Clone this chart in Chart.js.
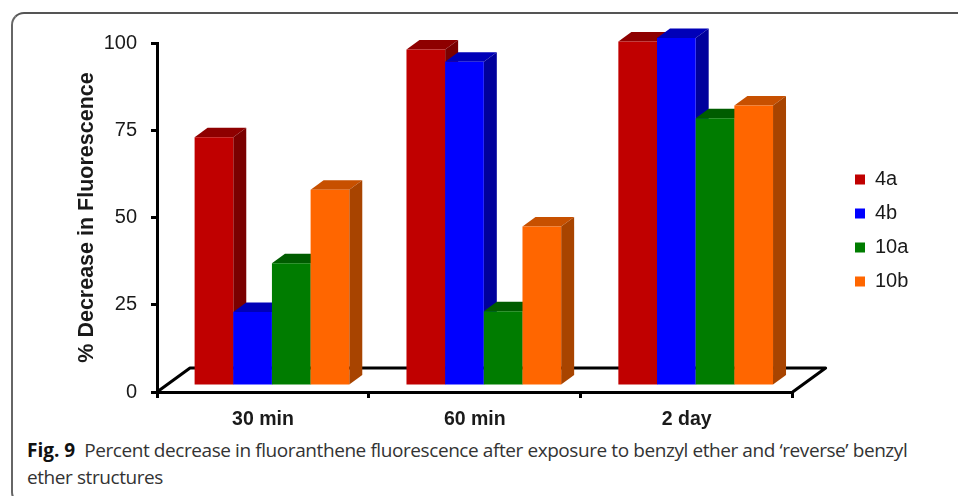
<!DOCTYPE html>
<html>
<head>
<meta charset="utf-8">
<style>
  html, body { margin: 0; padding: 0; background: #fff; width: 958px; height: 496px; overflow: hidden; }
  #frame { position: absolute; left: 11px; top: 12px; width: 960px; height: 493px; border-style: solid; border-width: 2px; border-color: #555 #555 #555 #666; border-radius: 13px; box-sizing: border-box; }
  #chartBox { position: absolute; left: 0; top: 0; width: 958px; height: 430px; }
  #caption { position: absolute; left: 27px; top: 437px; width: 890px; font: 19px/27px "Open Sans", sans-serif; color: #333; letter-spacing: -0.42px; }
  #caption b { color: #111; letter-spacing: 0; }
</style>
</head>
<body>
<div id="frame"></div>
<div id="chartBox"><canvas id="chart" width="958" height="430"></canvas></div>
<div id="caption"><b>Fig. 9</b>&nbsp; Percent decrease in fluoranthene fluorescence after exposure to benzyl ether and ‘reverse’ benzyl ether structures</div>
<script src="https://cdn.jsdelivr.net/npm/chart.js@4"></script>
<script>
const categories = ['30 min', '60 min', '2 day'];
const yTicks = [0, 25, 50, 75, 100];
const s4a = [71.3, 96.4, 98.7];
const s4b = [21.2, 92.9, 99.7];
const s10a = [35.2, 21.4, 76.7];
const s10b = [56.2, 45.7, 80.4];

// front face colour, top face, side face
const colours = {
    '4a': ['#c00000', '#8e0000', '#7a0000'],
    '4b': ['#0000ff', '#0000b8', '#00009c'],
    '10a': ['#007c00', '#005c00', '#004f00'],
    '10b': ['#ff6600', '#c75000', '#a84400']
};

const shiftX = 9, shiftY = -6;   // bars stand a bit behind the axis plane
const depthX = 13, depthY = -9.5; // depth of each bar
const floorX = 33, floorY = -24;

function drawFaces(ctx, bar, name) {
    const hw = bar.width / 2;
    const xl = bar.x - hw, xr = bar.x + hw, top = bar.y, base = bar.base;
    ctx.fillStyle = colours[name][1];
    ctx.beginPath();
    ctx.moveTo(xl, top);
    ctx.lineTo(xl + depthX, top + depthY);
    ctx.lineTo(xr + depthX, top + depthY);
    ctx.lineTo(xr, top);
    ctx.closePath();
    ctx.fill();
    ctx.fillStyle = colours[name][2];
    ctx.beginPath();
    ctx.moveTo(xr, top);
    ctx.lineTo(xr + depthX, top + depthY);
    ctx.lineTo(xr + depthX, base + depthY);
    ctx.lineTo(xr, base);
    ctx.closePath();
    ctx.fill();
}

const bars3d = {
    id: 'bars3d',
    afterLayout(chart) {
        // legend sits away from the plot
        const lg = chart.legend;
        const w = lg.right - lg.left;
        lg.left = 841;
        lg.right = 841 + w;
        lg.top -= 6;
        lg.bottom -= 6;
    },
    beforeDatasetsDraw(chart) {
        const ctx = chart.ctx, x = chart.scales.x, y = chart.scales.y;
        const l = x.left, r = x.right, b = y.bottom;
        ctx.save();
        ctx.strokeStyle = '#000';
        ctx.lineWidth = 3;
        ctx.lineJoin = 'round';
        ctx.beginPath();
        ctx.moveTo(l, b);
        ctx.lineTo(l + floorX, b + floorY);
        ctx.lineTo(r + floorX, b + floorY);
        ctx.lineTo(r, b);
        ctx.stroke();
        ctx.restore();

        // left series first so each bar covers the side of the one before it
        ctx.save();
        ctx.translate(shiftX, shiftY);
        chart.data.datasets.forEach((ds, i) => {
            chart.getDatasetMeta(i).data.forEach(bar => drawFaces(ctx, bar, ds.label));
            chart.getDatasetMeta(i).controller.draw();
        });
        ctx.restore();
        return false;
    }
};

function makeSet(label, values) {
    return {
        label: label,
        data: values,
        backgroundColor: colours[label][0],
        categoryPercentage: 0.73,
        barPercentage: 1
    };
}

new Chart(document.getElementById('chart'), {
    type: 'bar',
    data: {
        labels: categories,
        datasets: [
            makeSet('4a', s4a),
            makeSet('4b', s4b),
            makeSet('10a', s10a),
            makeSet('10b', s10b)
        ]
    },
    plugins: [bars3d],
    options: {
        responsive: false,
        animation: false,
        layout: { padding: { top: 43, bottom: 0, left: 74, right: 88 } },
        plugins: {
            tooltip: { enabled: false },
            legend: {
                position: 'right',
                labels: {
                    color: '#1a1a1a',
                    boxWidth: 10,
                    boxHeight: 10,
                    padding: 14,
                    font: { family: '"Liberation Sans"', size: 20 }
                }
            }
        },
        scales: {
            x: {
                grid: { drawOnChartArea: false, color: '#000', lineWidth: 3, tickLength: 6 },
                border: { color: '#000', width: 3 },
                ticks: { color: '#1a1a1a', padding: 10, font: { family: '"Liberation Sans"', size: 19.5, weight: 'bold' } },
                afterFit(s) { s.height = 38; }
            },
            y: {
                min: 0,
                max: 100,
                afterBuildTicks(s) { s.ticks = yTicks.map(v => ({ value: v })); },
                grid: { drawOnChartArea: false, color: '#000', lineWidth: 3, tickLength: 6 },
                border: { color: '#000', width: 3 },
                ticks: { color: '#1a1a1a', padding: 14, font: { family: '"Liberation Sans"', size: 20 } },
                title: {
                    display: true,
                    text: '% Decrease in Fluorescence',
                    color: '#1a1a1a',
                    font: { family: '"Liberation Sans"', size: 21.5, weight: 'bold' },
                    padding: { top: 0, bottom: 8 }
                },
                afterFit(s) { s.width = 83; }
            }
        }
    }
});
</script>
</body>
</html>
